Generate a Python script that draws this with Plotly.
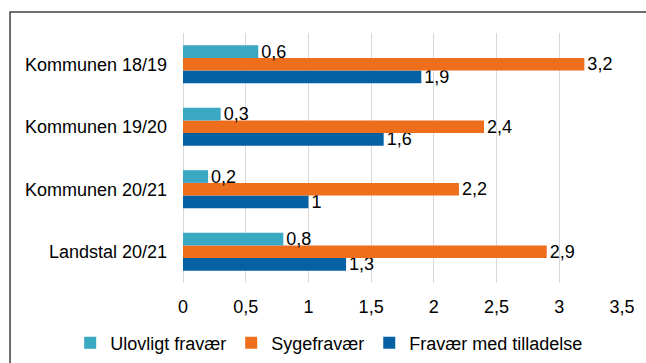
import plotly.graph_objects as go

# Absence per pupil, split by type of absence
categories = ["Kommunen 18/19", "Kommunen 19/20", "Kommunen 20/21", "Landstal 20/21"]
ulovligt = [0.6, 0.3, 0.2, 0.8]
syge = [3.2, 2.4, 2.2, 2.9]
tilladelse = [1.9, 1.6, 1.0, 1.3]

series_names = ["Ulovligt fravær", "Sygefravær", "Fravær med tilladelse"]
series_values = [ulovligt, syge, tilladelse]
series_colors = ["#3AA8C3", "#EE6E1C", "#0462A4"]

x_ticks = [0, 0.5, 1, 1.5, 2, 2.5, 3, 3.5]

FONT = "Liberation Sans, Arial, sans-serif"
FS = 18


def fmt(v):
    return f"{v:g}".replace(".", ",")


fig = go.Figure()
# Added bottom-to-top within each group, so the upper bars (and their
# labels) are drawn last and stay on top of the bars beneath them.
for name, vals, col in reversed(list(zip(series_names, series_values, series_colors))):
    fig.add_trace(go.Bar(
        y=categories,
        x=vals,
        name=name,
        orientation="h",
        marker=dict(color=col, line=dict(width=0)),
        text=[fmt(v) for v in vals],
        textposition="outside",
        constraintext="none",
        cliponaxis=False,
        textfont=dict(family=FONT, size=FS, color="black"),
    ))

fig.update_layout(
    width=646,
    height=363,
    margin=dict(l=183, r=24, t=33, b=80, autoexpand=False),
    paper_bgcolor="white",
    plot_bgcolor="white",
    barmode="group",
    bargap=0.39,
    bargroupgap=0,
    separators=", ",
    font=dict(family=FONT, size=FS, color="black"),
    showlegend=True,
    legend=dict(
        orientation="h",
        traceorder="reversed",
        x=-0.257,
        xanchor="left",
        y=-0.24,
        yanchor="middle",
        font=dict(family=FONT, size=FS, color="black"),
        itemwidth=30,
        tracegroupgap=0,
    ),
    xaxis=dict(
        range=[0, 3.5],
        tickvals=x_ticks,
        ticktext=[fmt(t) for t in x_ticks],
        showgrid=True,
        gridcolor="#D9D9D9",
        gridwidth=1,
        zeroline=True,
        zerolinecolor="#D9D9D9",
        zerolinewidth=1,
        showline=False,
        ticks="",
        ticklabelstandoff=11,
        tickfont=dict(family=FONT, size=FS, color="black"),
    ),
    yaxis=dict(
        categoryorder="array",
        categoryarray=categories[::-1],
        showgrid=False,
        zeroline=False,
        showline=False,
        ticks="",
        ticklabelstandoff=15,
        tickfont=dict(family=FONT, size=FS, color="black"),
    ),
    shapes=[
        # surrounding frame of the figure box
        dict(
            type="rect",
            xref="paper", yref="paper",
            x0=-0.394, x1=2.0, y0=-1.0, y1=1.084,
            line=dict(color="#404040", width=1.5),
            fillcolor="rgba(0,0,0,0)",
            layer="below",
        )
    ],
)

fig.write_html("out.html")
